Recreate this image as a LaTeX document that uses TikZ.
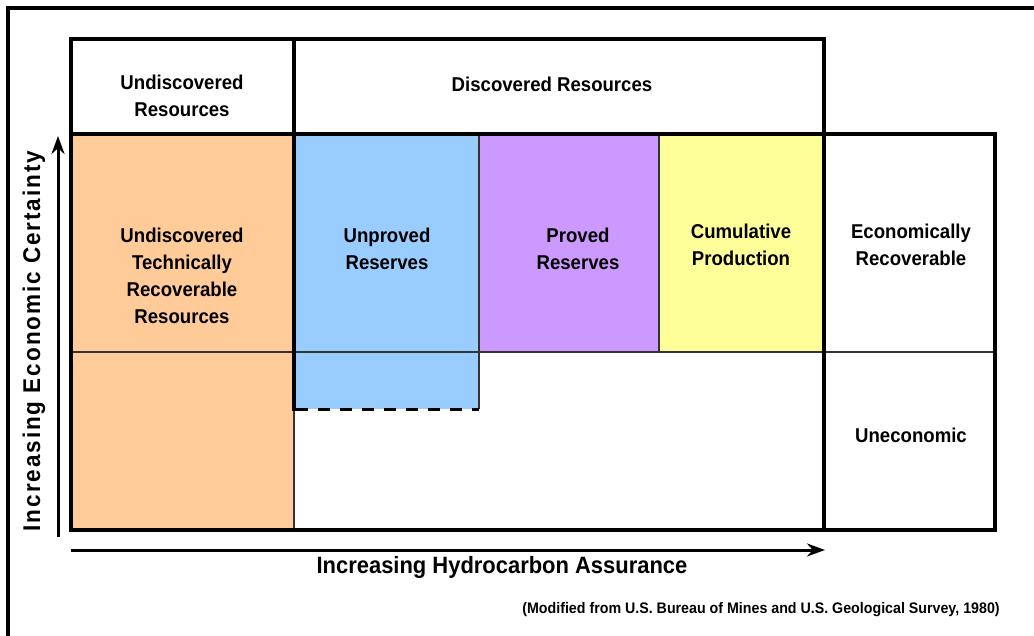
\documentclass[tikz,border=0pt]{standalone}
\usepackage{fontspec}
\setmainfont{Liberation Sans}[FakeStretch=0.93]
\newfontfamily\spacedfont{Liberation Sans}[LetterSpace=8,FakeStretch=0.93]
\usetikzlibrary{arrows.meta}
\definecolor{orng}{HTML}{FFCC99}
\definecolor{blu}{HTML}{99CCFF}
\definecolor{purp}{HTML}{CC99FF}
\definecolor{yell}{HTML}{FFFF99}
\begin{document}
\begin{tikzpicture}[x=1pt,y=-1pt,
  lbl/.style={font=\bfseries\fontsize{20}{27}\selectfont, align=center, inner sep=0pt},
  thk/.style={line width=3.5pt, line cap=rect},
  thinln/.style={line width=1.6pt, draw=black!80},
  axisarrow/.style={line width=3pt, -{Stealth[length=18pt,width=13pt]}}]
\useasboundingbox (0,0) rectangle (1034,636);
% outer frame (top and left only)
\draw[line width=4pt] (8,636) -- (8,8) -- (1034,8);
% fills
\fill[orng] (71,134) rectangle (294,530);
\fill[blu] (294,134) rectangle (479,409);
\fill[purp] (479,134) rectangle (659,352);
\fill[yell] (659,134) rectangle (824,352);
% thin lines
\draw[thinln] (71,352) -- (995,352);
\draw[thinln] (479,134) -- (479,409);
\draw[thinln] (659,134) -- (659,352);
\draw[thinln] (294,409) -- (294,530);
% dashed boundary
\draw[line width=3pt, dash pattern=on 12pt off 10pt] (296,409) -- (479,409);
% thick lines
\draw[thk] (71,39) rectangle (824,530);
\draw[thk] (294,39) -- (294,409);
\draw[thk] (71,134) -- (995,134);
\draw[thk] (824,134) -- (995,134) -- (995,530) -- (824,530);
% axis arrows
\coordinate (ys) at (58,537);
\coordinate (ye) at (58,136);
\coordinate (xs) at (71,550);
\coordinate (xe) at (825,550);
\draw[axisarrow] (ys) -- (ye);
\draw[axisarrow] (xs) -- (xe);
% labels
\node[lbl] (hundisc) at (182,96) {Undiscovered\\Resources};
\node[lbl] (hdisc) at (552,84) {Discovered Resources};
\node[lbl] (utrr) at (182,276) {Undiscovered\\Technically\\Recoverable\\Resources};
\node[lbl] (unproved) at (387,249) {Unproved\\Reserves};
\node[lbl] (proved) at (578,249) {Proved\\Reserves};
\node[lbl] (cumprod) at (741,245) {Cumulative\\Production};
\node[lbl] (econ) at (911,245) {Economically\\Recoverable};
\node[lbl] (unecon) at (911,435) {Uneconomic};
\node[inner sep=0pt, font=\bfseries\fontsize{23.6}{27}\selectfont] (xlabel) at (502,567) {Increasing Hydrocarbon Assurance};
\node[inner sep=0pt, rotate=90, font=\spacedfont\bfseries\fontsize{24.2}{27}\selectfont] (ylabel) at (34,341) {Increasing Economic Certainty};
\node[inner sep=0pt, font=\bfseries\fontsize{15.3}{17}\selectfont] (credit) at (761,610) {(Modified from U.S. Bureau of Mines and U.S. Geological Survey, 1980)};
\end{tikzpicture}
\end{document}
